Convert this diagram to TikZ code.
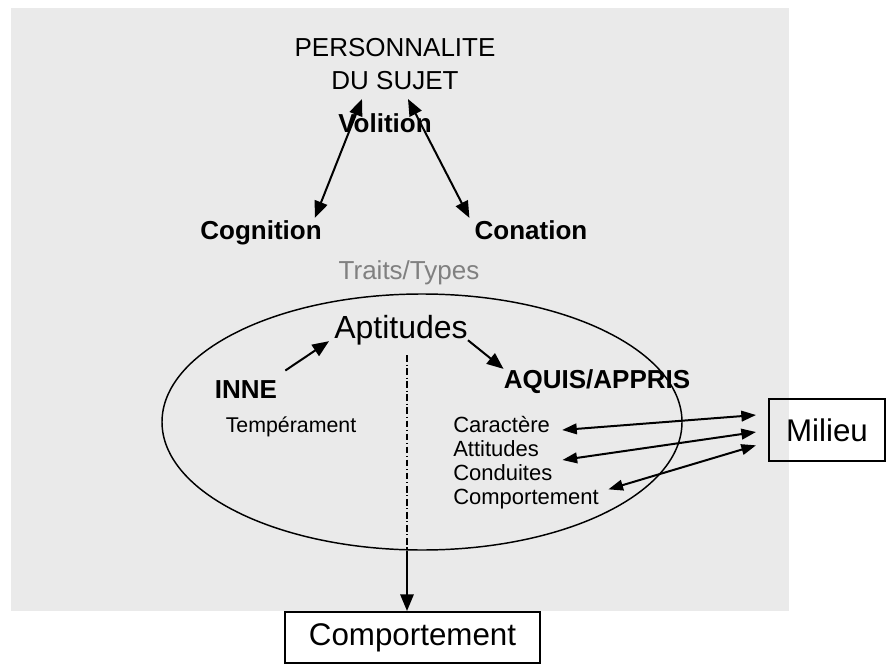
\documentclass[tikz,border=0pt]{standalone}
\usepackage{fontspec}
\setmainfont{Liberation Sans}
\usetikzlibrary{arrows.meta,shapes.geometric}
\definecolor{fondgris}{HTML}{EAEAEA}
\definecolor{grisclair}{HTML}{808080}
\begin{document}
\begin{tikzpicture}[x=0.75pt,y=-0.75pt,
        >={Triangle[length=12.5pt,width=10pt]},
        etiq/.style={inner sep=0pt,anchor=base,font=\fontsize{19.5}{24}\selectfont\bfseries},
        texte/.style={inner sep=0pt,anchor=base,font=\fontsize{#1}{#1}\selectfont},
        liste/.style={inner sep=0pt,anchor=base west,font=\fontsize{16.5}{18}\selectfont},
        boite/.style={draw,line width=1.5pt,inner sep=0pt,font=\fontsize{23.5}{28}\selectfont},
        fleche/.style={line width=1.5pt},
        fine/.style={line width=1.5pt,<->,>={Triangle[length=11pt,width=8pt]}}]
        \useasboundingbox (0,0) rectangle (888,670);
        \fill[fondgris] (11,8) rectangle (789,611); % fond
        \node[inner sep=0pt,anchor=south,align=center,font=\fontsize{19.5}{24.75}\selectfont] (sujet) at (395,90) {PERSONNALITE\\DU SUJET};
        \node[etiq] (volition) at (385,133) {Volition};
        \node[etiq] (cognition) at (261,240) {Cognition};
        \node[etiq] (conation) at (531,240) {Conation};
        \node[texte=19.5,text=grisclair] (traits) at (409,279) {Traits/Types};
        \node[ellipse,draw,line width=1.1pt,minimum width=390pt,minimum height=192pt,inner sep=0pt] (ovale) at (422,422) {};
        \node[texte=24] (aptitudes) at (401,338) {Aptitudes};
        \node[etiq] (inne) at (246,398) {INNE};
        \node[texte=16] (temperament) at (291,432) {Tempérament};
        \node[etiq] (aquis) at (597,388) {AQUIS/APPRIS};
        \foreach \mot/\nom/\y in {Caractère/car/432,Attitudes/att/456,Conduites/cond/480,Comportement/comp/504}
                \node[liste] (\nom) at (453,\y) {\mot};
        \node[boite,minimum width=87pt,minimum height=46.5pt] (milieu) at (827,430) {Milieu};
        \node[boite,minimum width=191.25pt,minimum height=38.25pt] (comportement) at (412.5,637.5) {Comportement};
        % fleches du haut
        \draw[fleche,<->] ([xshift=-24.75pt,yshift=-6.75pt]sujet.south) -- ([xshift=-5.25pt,yshift=2.25pt]cognition.north east);
        \draw[fleche,<->] ([xshift=9.75pt,yshift=-6.75pt]sujet.south) -- ([xshift=-3.75pt,yshift=2.25pt]conation.north west);
        \draw[fleche,->] ([xshift=6pt,yshift=7pt]inne.north east) -- ([xshift=-3.75pt,yshift=2.8pt]aptitudes.south west);
        \draw[fleche,->] ([yshift=3.5pt]aptitudes.south east) -- (aquis.north west);
        % milieu
        \draw[fine] ([xshift=9pt,yshift=1.5pt]car.base east) -- ([xshift=-9pt,yshift=11.25pt]milieu.west);
        \draw[fine] ([xshift=17.5pt,yshift=-3pt]att.base east) -- ([xshift=-9pt,yshift=-1.5pt]milieu.west);
        \draw[fine] ([xshift=7pt,yshift=-0.75pt]comp.north east) -- ([xshift=-9pt,yshift=-11.5pt]milieu.west);
        % axe vers le comportement
        \coordinate (axe) at ([xshift=4.5pt,yshift=-7.7pt]aptitudes.south);
        \coordinate (axebas) at (axe |- ovale.south);
        \draw[line width=1.1pt,dash pattern=on 5pt off 2pt on 0.8pt off 2pt] (axe) -- (axebas);
        \draw[fleche,->] (axebas) -- (axe |- comportement.north);
\end{tikzpicture}
\end{document}
